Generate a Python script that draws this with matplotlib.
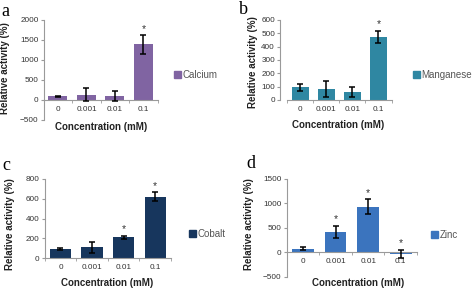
import numpy as np
import matplotlib
matplotlib.use('Agg')
from matplotlib import pyplot as plt
from matplotlib.patches import Patch

plt.rcParams['font.family'] = ['Liberation Sans', 'DejaVu Sans']

W, H = 472, 292

concentrations = ['0', '0.001', '0.01', '0.1']

calcium = [90, 135, 95, 1390]
calcium_err = [20, 155, 130, 235]
calcium_stars = [3]

manganese = [95, 82, 60, 475]
manganese_err = [27, 62, 38, 45]
manganese_stars = [3]

cobalt = [95, 110, 210, 620]
cobalt_err = [8, 55, 15, 45]
cobalt_stars = [2, 3]

zinc = [75, 420, 930, -30]
zinc_err = [35, 120, 150, 85]
zinc_stars = [1, 2, 3]

# name, values, errors, stars, colour, ylim, yticks, box (l, t, r, b px), letter pos,
# ylabel pos, xlabel pos, legend pos
panels = [
    ('a', 'Calcium', calcium, calcium_err, calcium_stars, '#8064A2',
     (-500, 2000), [-500, 0, 500, 1000, 1500, 2000],
     (43.7, 20, 157.7, 120), (5, 11), (5, 68), (101, 127), (174, 75)),
    ('b', 'Manganese', manganese, manganese_err, manganese_stars, '#2F87A2',
     (0, 600), [0, 100, 200, 300, 400, 500, 600],
     (287.2, 20, 391.5, 100), (243.5, 10), (253, 62), (338, 125), (413, 75)),
    ('c', 'Cobalt', cobalt, cobalt_err, cobalt_stars, '#17365D',
     (0, 800), [0, 200, 400, 600, 800],
     (44.7, 178.7, 171, 258.3), (6.5, 165), (10, 224), (107, 283), (189, 234)),
    ('d', 'Zinc', zinc, zinc_err, zinc_stars, '#3B74BE',
     (-500, 1500), [-500, 0, 500, 1000, 1500],
     (286.7, 178.7, 417, 276.7), (251, 163), (249, 224), (358, 283), (431, 235)),
]

fig = plt.figure(figsize=(W / 100, H / 100), dpi=100)

for (letter, name, vals, errs, stars, color, ylim, yticks, box,
     letter_pos, ylab_pos, xlab_pos, leg_pos) in panels:
    l, t, r, b = box
    ax = fig.add_axes([l / W, 1 - b / H, (r - l) / W, (b - t) / H])
    x = np.arange(len(concentrations))
    ax.bar(x, vals, width=0.67, color=color, zorder=2)
    ax.errorbar(x, vals, yerr=errs, fmt='none', ecolor='black',
                elinewidth=1.1, capsize=2.4, capthick=1.1, zorder=3)
    for i in stars:
        ax.annotate('*', (x[i], vals[i] + errs[i]), xytext=(0, 1),
                    textcoords='offset points', ha='center', va='bottom',
                    fontsize=7.5, color='#333333')

    ax.set_xlim(-0.5, len(concentrations) - 0.5)
    ax.set_ylim(*ylim)
    ax.set_yticks(yticks)
    ax.set_xticks(x)
    ax.set_xticklabels(concentrations)
    ax.set_xticks(np.arange(-0.5, len(concentrations)), minor=True)

    for side in ('top', 'right'):
        ax.spines[side].set_visible(False)
    for side in ('left', 'bottom'):
        ax.spines[side].set_color('#9a9a9a')
        ax.spines[side].set_linewidth(0.8)
    ax.spines['bottom'].set_position(('data', 0))
    if letter == 'b':
        ax.spines['left'].set_position(('outward', 5))

    ax.tick_params(axis='x', which='major', length=0, pad=4,
                   labelsize=5.9, labelcolor='#333333')
    ax.tick_params(axis='x', which='minor', length=2.5, color='#9a9a9a',
                   direction='out')
    ax.tick_params(axis='y', length=2.5, color='#9a9a9a', pad=1.2,
                   labelsize=5.9, labelcolor='#333333')
    ax.patch.set_visible(False)

    fig.text(letter_pos[0] / W, 1 - letter_pos[1] / H, letter,
             family=['Liberation Serif', 'DejaVu Serif'], fontsize=13,
             ha='center', va='center')
    fig.text(ylab_pos[0] / W, 1 - ylab_pos[1] / H, 'Relative activity (%)',
             rotation=90, fontsize=7, fontweight='bold', color='#222222',
             ha='center', va='center')
    fig.text(xlab_pos[0] / W, 1 - xlab_pos[1] / H, 'Concentration (mM)',
             fontsize=7, fontweight='bold', color='#222222',
             ha='center', va='center')
    fig.legend(handles=[Patch(color=color, label=name)],
               loc='center left', bbox_to_anchor=(leg_pos[0] / W, 1 - leg_pos[1] / H),
               frameon=False, fontsize=7, handlelength=0.7, handleheight=0.7,
               handletextpad=0.15, borderpad=0, borderaxespad=0,
               labelcolor='#555555')

fig.savefig('out.png', dpi=100)
